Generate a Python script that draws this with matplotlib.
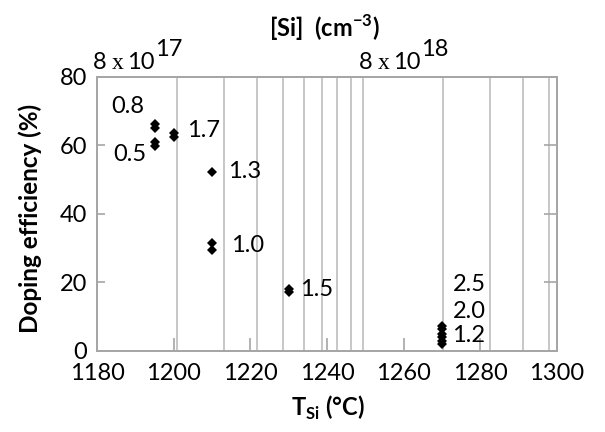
import matplotlib
matplotlib.use("Agg")
import matplotlib.pyplot as plt

plt.rcParams["font.family"] = ["Lato", "DejaVu Sans"]
plt.rcParams["mathtext.fontset"] = "custom"
plt.rcParams["mathtext.rm"] = "Lato"
plt.rcParams["mathtext.bf"] = "Lato:bold"

# data
series = ["0.8", "0.5", "1.7", "1.3", "1.0", "1.5", "2.5", "2.0", "1.2"]
t_si = [1195, 1195, 1200, 1210, 1210, 1230, 1270, 1270, 1270]
eff = [[66.3, 65.1], [60.8, 59.9], [63.7, 62.5], [52.3], [31.5, 29.5],
       [18.0, 17.1], [7.3, 6.2], [5.0, 4.0], [2.9, 1.9]]
# label offsets from the top point of each series, in pixels
label_off = [(-27, 17), (-25, -12.5), (30, 2.5), (33, 0), (35.5, -2.5),
             (28, 0), (27, 41), (27, 22), (27, 5)]

x_ticks = [1180, 1200, 1220, 1240, 1260, 1280, 1300]
y_ticks = [0, 20, 40, 60, 80]

# top [Si] axis (log, Excel-style base 8e17)
si_min, si_max = 8e17, 4.29e19
si_labels = [8e17, 8e18]
si_exps = ["17", "18"]
si_grid = [8e17 * k for k in range(1, 10)] + [8e18 * k for k in range(1, 6)]

GRID = "#bebebe"
SPINE = "#a6a6a6"

fig = plt.figure(figsize=(6.05, 4.32), dpi=100)
ax = fig.add_axes([97 / 605, 1 - 350.7 / 432, 460 / 605, 274 / 432])
ax2 = ax.twiny()
ax.set_zorder(ax2.get_zorder() + 1)
ax.patch.set_visible(False)

for x, vals, lab, (dx, dy) in zip(t_si, eff, series, label_off):
    ax.plot([x] * len(vals), vals, "D", color="black", ms=5.6, mew=0, zorder=3)
    ax.annotate(lab, xy=(x, max(vals)), xytext=(dx, dy), textcoords="offset pixels",
                ha="center", va="center", fontsize=17)

ax.set_xlim(1180, 1300)
ax.set_ylim(0, 80)
ax.set_xticks(x_ticks)
ax.set_yticks(y_ticks)
ax.tick_params(axis="x", direction="in", length=9.4, width=1.2, color=SPINE,
               labelsize=17, pad=8.5, top=False)
ax.tick_params(axis="y", direction="in", length=5.8, width=1.2, color=SPINE,
               labelsize=17, pad=7, right=False)
for s in ax.spines.values():
    s.set_color(SPINE)
    s.set_linewidth(1.3)

ax2.set_xscale("log")
ax2.set_xlim(si_min, si_max)
ax2.set_xticks(si_labels)
ax2.set_xticks(si_grid, minor=True)
ax2.xaxis.set_major_formatter(plt.NullFormatter())
ax2.xaxis.set_minor_formatter(plt.NullFormatter())
ax2.tick_params(axis="x", which="both", length=0)
ax2.grid(True, which="both", axis="x", color=GRID, lw=1.2)
ax2.yaxis.set_visible(True)
ax2.yaxis.tick_right()
ax2.tick_params(axis="y", direction="in", length=9.6, width=1.2, color=SPINE,
                labelright=False)
for s in ax2.spines.values():
    s.set_color(SPINE)
    s.set_linewidth(1.3)

top = ("data", "axes fraction")
for val, exp in zip(si_labels, si_exps):
    p1 = ax2.annotate("8", xy=(val, 1), xycoords=top, xytext=(-4, 8),
                      textcoords="offset pixels", ha="left", va="baseline", fontsize=17)
    p2 = ax2.annotate("x", xy=(1, 1), xycoords=(p1, "axes fraction"), xytext=(5, 8),
                      textcoords="offset pixels", ha="left", va="baseline", fontsize=17,
                      family="Liberation Serif")
    p3 = ax2.annotate("10", xy=(1, 1), xycoords=(p2, "axes fraction"), xytext=(4, 8),
                      textcoords="offset pixels", ha="left", va="baseline", fontsize=17)
    ax2.annotate(exp, xy=(1, 1), xycoords=(p3, "axes fraction"), xytext=(0, 21),
                 textcoords="offset pixels", ha="left", va="baseline", fontsize=17)

fig.text(30 / 605, 1 - 218 / 432, "Doping efficiency (%)", rotation=90,
         ha="center", va="center", fontsize=17.5, fontweight="bold")
fig.text(328 / 605, 1 - 408 / 432, r"T$_{\mathbf{Si}}$ (°C)",
         ha="center", va="center", fontsize=17, fontweight="bold")
fig.text(324 / 605, 1 - 28 / 432, r"[Si]  (cm$^{\mathbf{-3}}$)",
         ha="center", va="center", fontsize=17, fontweight="bold")

fig.savefig("out.png", dpi=100)
